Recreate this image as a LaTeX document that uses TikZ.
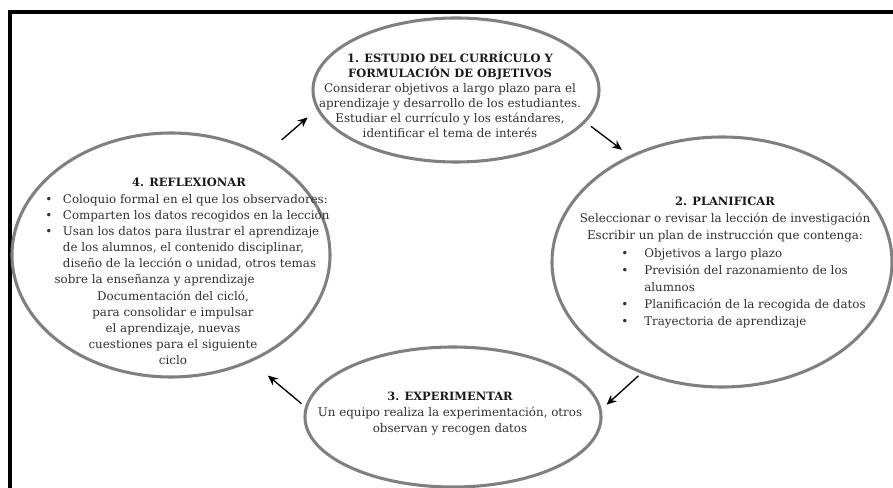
\documentclass[tikz,border=0pt]{standalone}
\usepackage{fontspec}
\setmainfont{DejaVu Serif}
\usetikzlibrary{arrows.meta, shapes.geometric}
\definecolor{anillo}{RGB}{128,128,128}
\definecolor{textogris}{RGB}{48,48,48}
\newcommand{\fasetitulo}[1]{{\fontsize{8.6}{8.6}\selectfont\color{black!90}\bfseries #1}}
\tikzset{
  fase/.style={ellipse, draw=anillo, line width=2.3pt},
  texto/.style={text=textogris, inner sep=0pt, align=center},
  lista/.style={texto, align=left, anchor=west},
  flecha/.style={-{Stealth[length=7.5pt,width=6.5pt]}, line width=1pt}
}
\begin{document}
\begin{tikzpicture}[x=0.75pt,y=-0.75pt]
  \useasboundingbox (0,0) rectangle (893,488);
  % marco
  \draw[line width=3pt] (10,488) -- (10,12) -- (893,12);
  % fases del ciclo
  \node[fase, minimum width=214.5pt, minimum height=108pt] (estudio) at (456,90) {};
  \node[fase, minimum width=255pt, minimum height=187.5pt] (planificar) at (722,262) {};
  \node[fase, minimum width=222pt, minimum height=105pt] (experimentar) at (453,417) {};
  \node[fase, minimum width=238.5pt, minimum height=183pt] (reflexionar) at (171,255) {};
  % 1
  \node[texto, font=\fontsize{8.9}{11.25}\selectfont] (estudio txt) at (450,95)
    {\fasetitulo{1. ESTUDIO DEL CURRÍCULO Y}\\ \fasetitulo{FORMULACIÓN DE OBJETIVOS}\\
     Considerar objetivos a largo plazo para el\\
     aprendizaje y desarrollo de los estudiantes.\\
     Estudiar el currículo y los estándares,\\
     identificar el tema de interés};
  % 2
  \node[texto, font=\fontsize{8.9}{12.75}\selectfont] (planificar txt) at (725,220)
    {\fasetitulo{2. PLANIFICAR}\\
     Seleccionar o revisar la lección de investigación\\
     Escribir un plan de instrucción que contenga:};
  \node[lista, font=\fontsize{8.9}{12.75}\selectfont] (planificar lista) at (621,288)
    {\begin{tabular}{@{}c@{\hspace{12pt}}l@{}}
     \textbullet & Objetivos a largo plazo\\
     \textbullet & Previsión del razonamiento de los\\
                 & alumnos\\
     \textbullet & Planificación de la recogida de datos\\
     \textbullet & Trayectoria de aprendizaje
     \end{tabular}};
  % 3
  \node[texto, font=\fontsize{8.9}{12}\selectfont] (experimentar txt) at (450,414)
    {\fasetitulo{3. EXPERIMENTAR}\\
     Un equipo realiza la experimentación, otros\\
     observan y recogen datos};
  % 4
  \node[texto, font=\fontsize{8.9}{12}\selectfont] (reflexionar tit) at (189,182)
    {\fasetitulo{4. REFLEXIONAR}};
  \node[lista, font=\fontsize{8.9}{12}\selectfont] (reflexionar lista) at (45,240)
    {\begin{tabular}{@{}c@{\hspace{8pt}}l@{}}
     \textbullet & Coloquio formal en el que los observadores:\\
     \textbullet & Comparten los datos recogidos en la lección\\
     \textbullet & Usan los datos para ilustrar el aprendizaje\\
                 & de los alumnos, el contenido disciplinar,\\
                 & diseño de la lección o unidad, otros temas\\
     \multicolumn{2}{@{\hspace{7pt}}l@{}}{sobre la enseñanza y aprendizaje}
     \end{tabular}};
  \node[texto, font=\fontsize{8.9}{12}\selectfont] (reflexionar doc) at (173,328)
    {Documentación del cicló,\\
     para consolidar e impulsar\\
     el aprendizaje, nuevas\\
     cuestiones para el siguiente\\
     ciclo};
  % flechas
  \draw[flecha, shorten <=17pt, shorten >=9pt] (reflexionar.47) -- (estudio.188);
  \draw[flecha, shorten <=5pt, shorten >=7pt] (estudio.-14) -- (planificar.131);
  \draw[flecha, shorten <=2.5pt, shorten >=5pt] (planificar.234) -- (experimentar.3);
  \draw[flecha, shorten <=3.5pt, shorten >=16pt] (experimentar.176) -- (reflexionar.-53);
\end{tikzpicture}
\end{document}
